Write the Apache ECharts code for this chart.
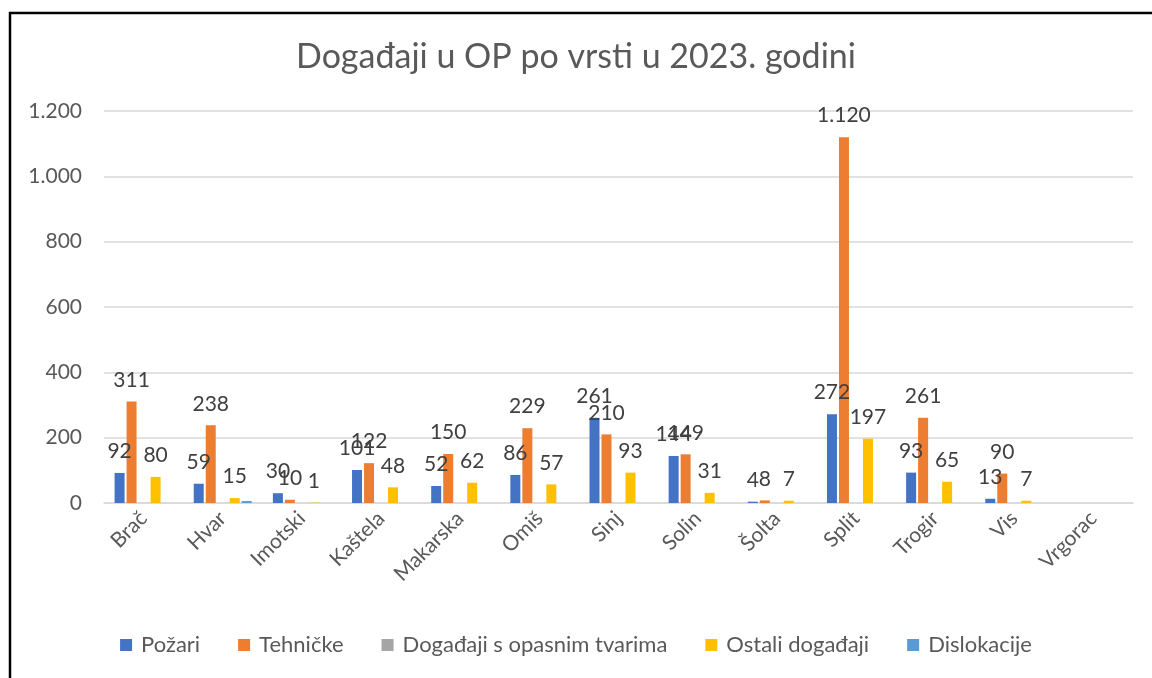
<!DOCTYPE html>
<html>
<head>
<meta charset="utf-8">
<script src="https://cdn.jsdelivr.net/npm/echarts@6/dist/echarts.min.js"></script>
<style>
	body { margin: 0; background: #fff; }
	#chart { width: 1152px; height: 678px; }
</style>
</head>
<body>
<div id="chart"></div>
<script>
	// Događaji po ispostavama
	var gradovi = ['Brač', 'Hvar', 'Imotski', 'Kaštela', 'Makarska', 'Omiš', 'Sinj', 'Solin', 'Šolta', 'Split', 'Trogir', 'Vis', 'Vrgorac'];
	var pozari = [92, 59, 30, 101, 52, 86, 261, 144, 4, 272, 93, 13, null];
	var tehnicke = [311, 238, 10, 122, 150, 229, 210, 149, 8, 1120, 261, 90, null];
	var opasneTvari = [null, null, null, null, null, null, null, null, null, null, null, null, null];
	var ostali = [80, 15, 1, 48, 62, 57, 93, 31, 7, 197, 65, 7, null];
	var dislokacije = [null, 6, null, null, null, null, null, null, null, null, null, null, null];
	var yTicks = [0, 200, 400, 600, 800, 1000, 1200];

	var font = 'Lato, "Noto Sans", sans-serif';

	function fmt(v) {
		return String(v).replace(/\B(?=(\d{3})+(?!\d))/g, '.');
	}

	var chart = echarts.init(document.getElementById('chart'));

	function serija(name, data, color, showLabel) {
		return {
			name: name,
			type: 'bar',
			data: data,
			barWidth: 10,
			barGap: '20%',
			itemStyle: { color: color },
			label: {
				show: showLabel,
				position: 'top',
				distance: 11,
				color: '#404040',
				fontSize: 21,
				fontFamily: font,
				formatter: function (p) {
					return p.value == null ? '' : fmt(p.value);
				}
			}
		};
	}

	var option = {
		animation: false,
		textStyle: { fontFamily: font },
		title: {
			text: 'Događaji u OP po vrsti u 2023. godini',
			left: 'center',
			top: 35,
			textStyle: {
				color: '#595959',
				fontSize: 34,
				fontWeight: 'normal',
				fontFamily: font
			}
		},
		graphic: [{
			type: 'polyline',
			shape: { points: [[10, 678], [10, 13], [1152, 13]] },
			style: { stroke: '#000', lineWidth: 2.5, fill: null }
		}],
		grid: {
			left: 104,
			right: 19,
			top: 111,
			bottom: 175
		},
		legend: {
			bottom: 17,
			left: 'center',
			itemWidth: 12,
			itemHeight: 12,
			itemGap: 38,
			icon: 'rect',
			textStyle: { color: '#595959', fontSize: 22, fontFamily: font, padding: [0, 0, 0, 4] },
			data: ['Požari', 'Tehničke', 'Događaji s opasnim tvarima', 'Ostali događaji', 'Dislokacije']
		},
		xAxis: {
			type: 'category',
			data: gradovi,
			axisTick: { show: false },
			axisLine: { lineStyle: { color: '#d9d9d9', width: 1.5 } },
			axisLabel: {
				rotate: 45,
				interval: 0,
				margin: 12,
				color: '#595959',
				fontSize: 21,
				fontFamily: font
			}
		},
		yAxis: {
			type: 'value',
			min: yTicks[0],
			max: yTicks[yTicks.length - 1],
			interval: 200,
			axisLine: { show: false },
			axisTick: { show: false },
			splitLine: { lineStyle: { color: '#d9d9d9', width: 1.5 } },
			axisLabel: {
				margin: 22,
				color: '#595959',
				fontSize: 21,
				fontFamily: font,
				formatter: fmt
			}
		},
		series: [
			serija('Požari', pozari, '#4472C4', true),
			serija('Tehničke', tehnicke, '#ED7D31', true),
			serija('Događaji s opasnim tvarima', opasneTvari, '#A5A5A5', true),
			serija('Ostali događaji', ostali, '#FFC000', true),
			serija('Dislokacije', dislokacije, '#5B9BD5', false)
		]
	};
	chart.setOption(option);
</script>
</body>
</html>
